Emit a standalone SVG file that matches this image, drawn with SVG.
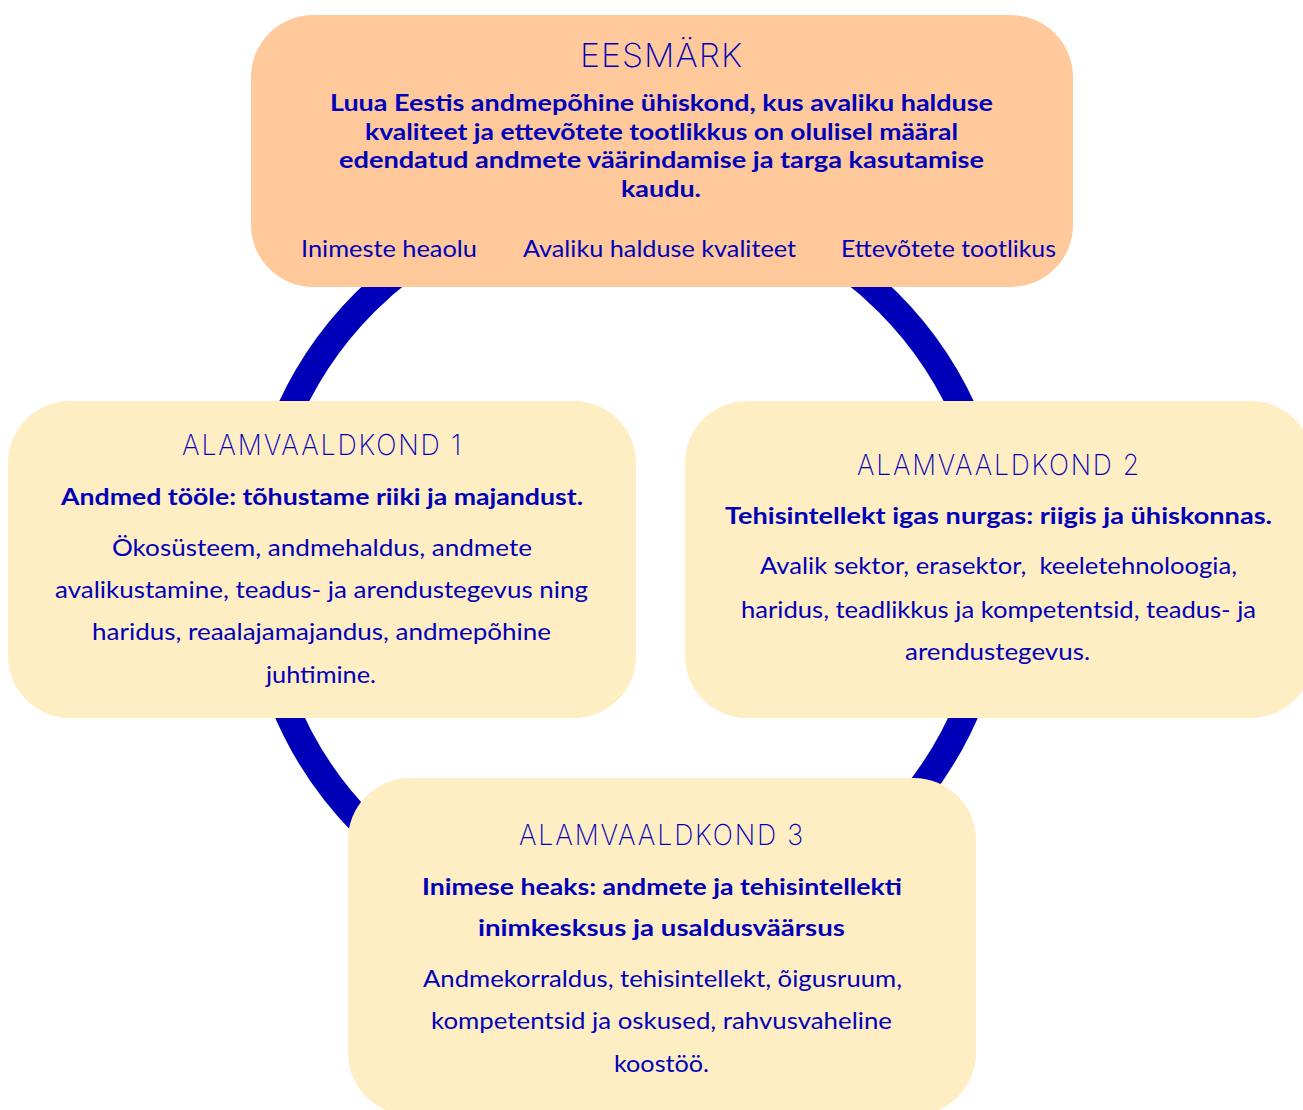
<svg xmlns="http://www.w3.org/2000/svg" width="1303" height="1110" viewBox="0 0 1303 1110">
<style>
text{fill:#0000B8;text-anchor:middle;font-family:Lato,"Noto Sans",sans-serif}
.ttl{font-family:Inter,Lato,sans-serif;font-weight:150;font-size:29px;letter-spacing:2px}
.big{font-size:33px;letter-spacing:1px}
.b{font-weight:700;font-size:23px}
.r{font-weight:400;font-size:22.5px}
.top{fill:#FFC99C}
.sub{fill:#FFEDC4}
</style>
<g id="connectors">
<circle cx="626.5" cy="564" r="370" fill="none" stroke="#0000B8" stroke-width="27"/>
</g>
<g id="eesmark">
<rect class="top" x="251" y="15" width="822" height="272" rx="62"/>
<text class="ttl big" x="661.5" y="67" textLength="163" lengthAdjust="spacingAndGlyphs">EESMÄRK</text>
<text class="b" x="661.5" y="111" textLength="663" lengthAdjust="spacingAndGlyphs">Luua Eestis andmepõhine ühiskond, kus avaliku halduse</text>
<text class="b" x="661.5" y="140" textLength="593" lengthAdjust="spacingAndGlyphs">kvaliteet ja ettevõtete tootlikkus on olulisel määral</text>
<text class="b" x="661.5" y="168" textLength="645" lengthAdjust="spacingAndGlyphs">edendatud andmete väärindamise ja targa kasutamise</text>
<text class="b" x="661" y="197" textLength="80" lengthAdjust="spacingAndGlyphs">kaudu.</text>
<text class="r" x="389" y="257" textLength="176" lengthAdjust="spacingAndGlyphs">Inimeste heaolu</text>
<text class="r" x="659.5" y="257" textLength="273" lengthAdjust="spacingAndGlyphs">Avaliku halduse kvaliteet</text>
<text class="r" x="948.5" y="257" textLength="215" lengthAdjust="spacingAndGlyphs">Ettevõtete tootlikus</text>
</g>
<g id="alamvaldkond1">
<rect class="sub" x="8" y="401" width="628" height="317" rx="62"/>
<text class="ttl" x="322.5" y="455" textLength="281" lengthAdjust="spacingAndGlyphs">ALAMVAALDKOND 1</text>
<text class="b" x="322" y="505" textLength="522" lengthAdjust="spacingAndGlyphs">Andmed tööle: tõhustame riiki ja majandust.</text>
<text class="r" x="322" y="556" textLength="420" lengthAdjust="spacingAndGlyphs">Ökosüsteem, andmehaldus, andmete</text>
<text class="r" x="321.5" y="598" textLength="533" lengthAdjust="spacingAndGlyphs">avalikustamine, teadus- ja arendustegevus ning</text>
<text class="r" x="321.5" y="640" textLength="459" lengthAdjust="spacingAndGlyphs">haridus, reaalajamajandus, andmepõhine</text>
<text class="r" x="321" y="683" textLength="110" lengthAdjust="spacingAndGlyphs">juhtimine.</text>
</g>
<g id="alamvaldkond2">
<rect class="sub" x="685" y="401" width="628" height="317" rx="62"/>
<text class="ttl" x="999" y="475" textLength="284" lengthAdjust="spacingAndGlyphs">ALAMVAALDKOND 2</text>
<text class="b" x="998.5" y="524" textLength="547" lengthAdjust="spacingAndGlyphs">Tehisintellekt igas nurgas: riigis ja ühiskonnas.</text>
<text class="r" x="998.5" y="574" textLength="477" lengthAdjust="spacingAndGlyphs" style="white-space:pre">Avalik sektor, erasektor,  keeletehnoloogia,</text>
<text class="r" x="998.5" y="618" textLength="515" lengthAdjust="spacingAndGlyphs">haridus, teadlikkus ja kompetentsid, teadus- ja</text>
<text class="r" x="997.5" y="660" textLength="185" lengthAdjust="spacingAndGlyphs">arendustegevus.</text>
</g>
<g id="alamvaldkond3">
<rect class="sub" x="348" y="778" width="628" height="337" rx="62"/>
<text class="ttl" x="662" y="845" textLength="286" lengthAdjust="spacingAndGlyphs">ALAMVAALDKOND 3</text>
<text class="b" x="662" y="895" textLength="480" lengthAdjust="spacingAndGlyphs">Inimese heaks: andmete ja tehisintellekti</text>
<text class="b" x="661.5" y="936" textLength="367" lengthAdjust="spacingAndGlyphs">inimkesksus ja usaldusväärsus</text>
<text class="r" x="662.5" y="987" textLength="479" lengthAdjust="spacingAndGlyphs">Andmekorraldus, tehisintellekt, õigusruum,</text>
<text class="r" x="661.5" y="1029" textLength="461" lengthAdjust="spacingAndGlyphs">kompetentsid ja oskused, rahvusvaheline</text>
<text class="r" x="661.5" y="1072" textLength="95" lengthAdjust="spacingAndGlyphs">koostöö.</text>
</g>
</svg>
